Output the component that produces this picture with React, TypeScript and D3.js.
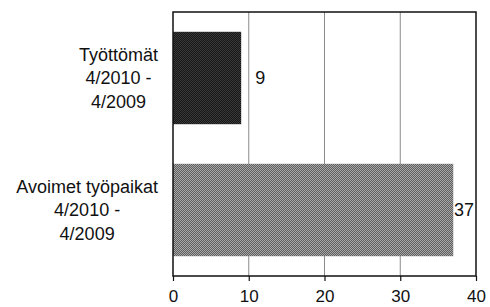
import React, { useRef, useEffect } from "react";
import * as d3 from "d3";

const categories = ["Työttömät\n4/2010 -\n4/2009", "Avoimet työpaikat\n4/2010 -\n4/2009"];
const values = [9, 37];
const xTicks = [0, 10, 20, 30, 40];

export default function App() {
  const ref = useRef<SVGSVGElement>(null);

  useEffect(() => {
    const width = 490;
    const height = 307;
    const margin = { top: 12, right: 14, bottom: 32, left: 173 };
    const font = "'Liberation Sans', Arial, sans-serif";

    const svg = d3.select(ref.current);
    svg.selectAll("*").remove();
    svg.attr("width", width).attr("height", height);

    const defs = svg.append("defs");
    // dithered fills like the scanned print
    const makeChecker = (id: string, a: string, b: string) => {
      const p = defs.append("pattern")
        .attr("id", id)
        .attr("width", 2)
        .attr("height", 2)
        .attr("patternUnits", "userSpaceOnUse");
      p.append("rect").attr("width", 2).attr("height", 2).attr("fill", a);
      p.append("rect").attr("width", 1).attr("height", 1).attr("fill", b);
      p.append("rect").attr("x", 1).attr("y", 1).attr("width", 1).attr("height", 1).attr("fill", b);
    };
    makeChecker("dark", "#161616", "#3a3a3a");
    makeChecker("mid", "#5e5e5e", "#a8a8a8");
    const fills = ["url(#dark)", "url(#mid)"];

    const x = d3.scaleLinear()
      .domain([0, 40])
      .range([margin.left, width - margin.right]);

    const y = d3.scaleBand()
      .domain(categories)
      .range([margin.top, height - margin.bottom + 1])
      .paddingInner(0.3)
      .paddingOuter(0.15);

    const plotTop = margin.top;
    const plotBottom = height - margin.bottom + 1;
    const plotRight = width - margin.right;

    // gridlines
    svg.append("g")
      .selectAll("line")
      .data(xTicks.slice(1, -1))
      .enter()
      .append("line")
      .attr("x1", d => x(d))
      .attr("x2", d => x(d))
      .attr("y1", plotTop)
      .attr("y2", plotBottom)
      .attr("stroke", "#8a8a8a")
      .attr("stroke-width", 1);

    // bars
    svg.append("g")
      .selectAll("rect")
      .data(values)
      .enter()
      .append("rect")
      .attr("x", x(0))
      .attr("y", (d, i) => y(categories[i])!)
      .attr("width", d => x(d) - x(0))
      .attr("height", y.bandwidth())
      .attr("fill", (d, i) => fills[i]);

    // frame
    svg.append("rect")
      .attr("x", margin.left)
      .attr("y", plotTop)
      .attr("width", plotRight - margin.left)
      .attr("height", plotBottom - plotTop)
      .attr("fill", "none")
      .attr("stroke", "#111")
      .attr("stroke-width", 1.5);

    // x axis
    const axis = svg.append("g")
      .attr("transform", `translate(0,${plotBottom})`)
      .call(d3.axisBottom(x).tickValues(xTicks).tickSize(5).tickPadding(9).tickSizeOuter(0));
    axis.select(".domain").remove();
    axis.selectAll("line").attr("stroke", "#111").attr("stroke-width", 1.2);
    axis.selectAll("text")
      .attr("font-family", font)
      .attr("font-size", 17)
      .attr("fill", "#111");

    // value labels, kept inside the plot area
    const labels = svg.append("g")
      .selectAll("text")
      .data(values)
      .enter()
      .append("text")
      .attr("y", (d, i) => y(categories[i])! + y.bandwidth() / 2)
      .attr("dy", "0.35em")
      .attr("font-family", font)
      .attr("font-size", 18)
      .attr("fill", "#111")
      .text(d => d);
    labels.each(function (d) {
      const t = this as SVGTextElement;
      const w = t.getComputedTextLength();
      t.setAttribute("x", String(Math.min(x(d) + 14, plotRight - w - 2)));
    });

    // category labels: lines centred within the block, block right-aligned
    const lineH = 23.3;
    categories.forEach(cat => {
      const lines = cat.split("\n");
      const g = svg.append("g");
      const cy = y(cat)! + y.bandwidth() / 2;
      const texts = g.selectAll("text")
        .data(lines)
        .enter()
        .append("text")
        .attr("font-family", font)
        .attr("font-size", 18)
        .attr("fill", "#111")
        .attr("text-anchor", "middle")
        .attr("y", (d, i) => cy + (i - (lines.length - 1) / 2) * lineH)
        .attr("dy", "0.35em")
        .text(d => d);
      let maxW = 0;
      texts.each(function () {
        maxW = Math.max(maxW, (this as SVGTextElement).getComputedTextLength());
      });
      texts.attr("x", margin.left - 15 - maxW / 2);
    });
  }, []);

  return <svg ref={ref} style={{ position: "absolute", left: 0, top: 0 }}></svg>;
}
